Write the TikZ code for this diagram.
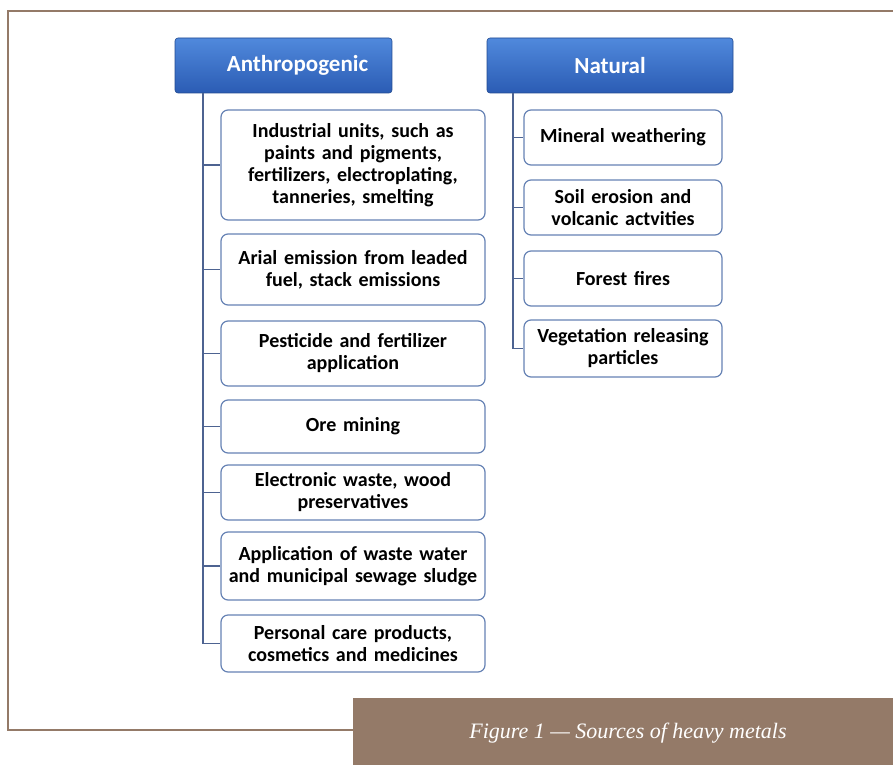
\documentclass[tikz,border=0pt]{standalone}
\usepackage{fontspec}
\setmainfont{Carlito}
\newfontfamily\capfont[Ligatures=TeX]{Liberation Serif}
\usetikzlibrary{shadings}

\definecolor{framebrown}{HTML}{947A68}
\definecolor{headtop}{HTML}{5089DC}
\definecolor{headbot}{HTML}{2B5CB4}
\definecolor{boxline}{HTML}{6682B4}
\definecolor{trunkline}{HTML}{4D6391}

\tikzset{
  head/.style={rounded corners=3pt, top color=headtop, bottom color=headbot,
    draw=headbot!80!black, line width=0.6pt, text=white,
    font=\fontsize{23}{26}\selectfont\bfseries, inner sep=0pt},
  src/.style={rounded corners=7pt, draw=boxline, line width=1.2pt, fill=white,
    align=center, font=\fontsize{20}{22}\selectfont\bfseries, inner sep=0pt},
  conn/.style={draw=trunkline, line width=1.6pt}
}

\begin{document}
\begin{tikzpicture}[x=1pt,y=-1pt]
\useasboundingbox (0,0) rectangle (893,765);
% frame and caption
\draw[framebrown, line width=2pt] (355,730) -- (8,730) -- (8,11) -- (893,11);
\fill[framebrown] (353,698) rectangle (893,765);
\node[text=white, font=\capfont\itshape\fontsize{22}{26}\selectfont] (cap) at (628,733) {Figure 1 --- Sources of heavy metals};

% headers
\node[head, minimum width=217pt, minimum height=55pt] (anth) at (283.5,65.5) {\hspace*{28pt}Anthropogenic};
\node[head, minimum width=246pt, minimum height=55pt] (nat) at (610,65.5) {Natural};

% anthropogenic sources
\node[src, minimum width=264pt, minimum height=110pt, text width=258pt] (a1) at (353,165) {Industrial units, such as\\paints and pigments,\\fertilizers, electroplating,\\tanneries, smelting};
\node[src, minimum width=264pt, minimum height=71pt, text width=258pt] (a2) at (353,269.5) {Arial emission from leaded\\fuel, stack emissions};
\node[src, minimum width=264pt, minimum height=65pt, text width=258pt] (a3) at (353,353.5) {Pesticide and fertilizer\\application};
\node[src, minimum width=264pt, minimum height=53pt, text width=258pt] (a4) at (353,426.5) {Ore mining};
\node[src, minimum width=264pt, minimum height=55pt, text width=258pt] (a5) at (353,492.5) {Electronic waste, wood\\preservatives};
\node[src, minimum width=264pt, minimum height=68pt, text width=258pt] (a6) at (353,566) {Application of waste water\\and municipal sewage sludge};
\node[src, minimum width=264pt, minimum height=57pt, text width=258pt] (a7) at (353,643.5) {Personal care products,\\cosmetics and medicines};

% natural sources
\node[src, minimum width=198pt, minimum height=55pt, text width=194pt] (n1) at (623,137.5) {Mineral weathering};
\node[src, minimum width=198pt, minimum height=55pt, text width=194pt] (n2) at (623,207.5) {Soil erosion and\\volcanic actvities};
\node[src, minimum width=198pt, minimum height=55pt, text width=194pt] (n3) at (623,278.5) {Forest fires};
\node[src, minimum width=198pt, minimum height=57pt, text width=194pt] (n4) at (623,348.5) {Vegetation releasing\\particles};

% connectors
\coordinate (ta) at (203,93);
\coordinate (tn) at (513,93);
\foreach \k in {a1,a2,a3,a4,a5,a6,a7}
  \draw[conn] (ta) |- (\k.west);
\foreach \k in {n1,n2,n3,n4}
  \draw[conn] (tn) |- (\k.west);
\end{tikzpicture}
\end{document}
